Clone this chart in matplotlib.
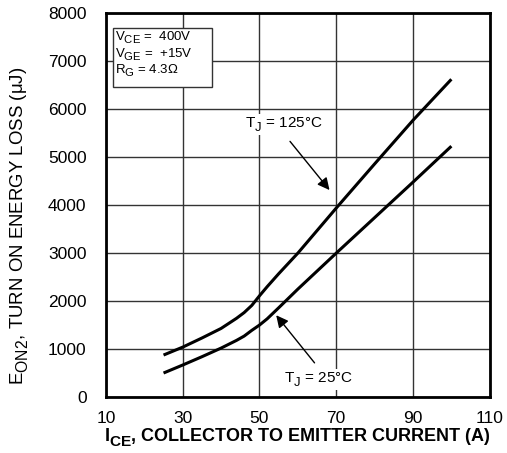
import matplotlib
matplotlib.use("Agg")
import matplotlib.pyplot as plt
import matplotlib._mathtext as mt
from matplotlib.patches import Rectangle

# datasheet style subscripts: bigger and lower than mathtext default
mt.SHRINK_FACTOR = 0.85
mt.FontConstantsBase.sub1 = 0.5
mt.FontConstantsBase.sub2 = 0.7

plt.rcParams['font.family'] = ['Liberation Sans', 'DejaVu Sans']
plt.rcParams['mathtext.fontset'] = 'custom'
plt.rcParams['mathtext.rm'] = 'Liberation Sans'
plt.rcParams['mathtext.bf'] = 'Liberation Sans:bold'

# collector current (A)
ice = [25, 30, 35, 40, 44, 46, 48, 50, 52, 55, 60, 70, 80, 90, 100]
# turn-on energy loss (uJ)
eon_125 = [875, 1040, 1230, 1430, 1640, 1760, 1910, 2110, 2300, 2570, 3000, 3940, 4860, 5770, 6625]
eon_25 = [500, 667, 840, 1020, 1180, 1270, 1390, 1500, 1630, 1860, 2250, 3000, 3740, 4480, 5230]

x_ticks = [10, 30, 50, 70, 90, 110]
y_ticks = [0, 1000, 2000, 3000, 4000, 5000, 6000, 7000, 8000]

fig = plt.figure(figsize=(5.07, 4.53), dpi=100)
ax = fig.add_axes([0.209, 0.1236, 0.757, 0.847])

ax.plot(ice, eon_125, color='black', lw=2.2, solid_capstyle='butt')
ax.plot(ice, eon_25, color='black', lw=2.2, solid_capstyle='butt')

ax.set_xlim(10, 110)
ax.set_ylim(0, 8000)
ax.set_xticks(x_ticks)
ax.set_yticks(y_ticks)
ax.tick_params(length=0, labelsize=12.5)
ax.tick_params(axis='x', pad=10)
ax.tick_params(axis='y', pad=14)
ax.grid(True, color='#333333', lw=1.0)
for s in ax.spines.values():
    s.set_linewidth(2)

ax.set_xlabel(r'I$_{\mathbf{CE}}$, COLLECTOR TO EMITTER CURRENT (A)',
              fontsize=13, fontweight='bold', labelpad=0)
ax.set_ylabel(r'E$_{\mathregular{ON2}}$, TURN ON ENERGY LOSS ($\mathregular{\mu}$J)',
              fontsize=13.4)
ax.yaxis.set_label_coords(-0.195, 0.445)

# test conditions box
ax.add_patch(Rectangle((11.8, 6460), 25.7, 1230, fc='white', ec='#333333', lw=1, zorder=3))
cond = ['V$_{\\mathregular{CE}}$ =  400V', 'V$_{\\mathregular{GE}}$ =  +15V', 'R$_{\\mathregular{G}}$ = 4.3\u03a9']
cond_y = [7440, 7080, 6750]
for s, yy in zip(cond, cond_y):
    ax.text(12.3, yy, s, fontsize=9.5, ha='left', va='baseline', zorder=4)

ax.text(46.1, 5625, 'T$_{\\mathregular{J}}$ = 125\u00b0C', fontsize=11, ha='left', va='baseline',
        bbox=dict(fc='white', ec='none', pad=1))
ax.annotate('', xy=(68.7, 4270), xytext=(57.5, 5375),
            arrowprops=dict(arrowstyle='-|>', color='black', lw=1, mutation_scale=18))

ax.text(56.5, 312, 'T$_{\\mathregular{J}}$ = 25\u00b0C', fontsize=11, ha='left', va='baseline',
        bbox=dict(fc='white', ec='none', pad=1))
ax.annotate('', xy=(53.9, 1750), xytext=(64.8, 667),
            arrowprops=dict(arrowstyle='-|>', color='black', lw=1, mutation_scale=18))

fig.savefig('out.png', dpi=100)
